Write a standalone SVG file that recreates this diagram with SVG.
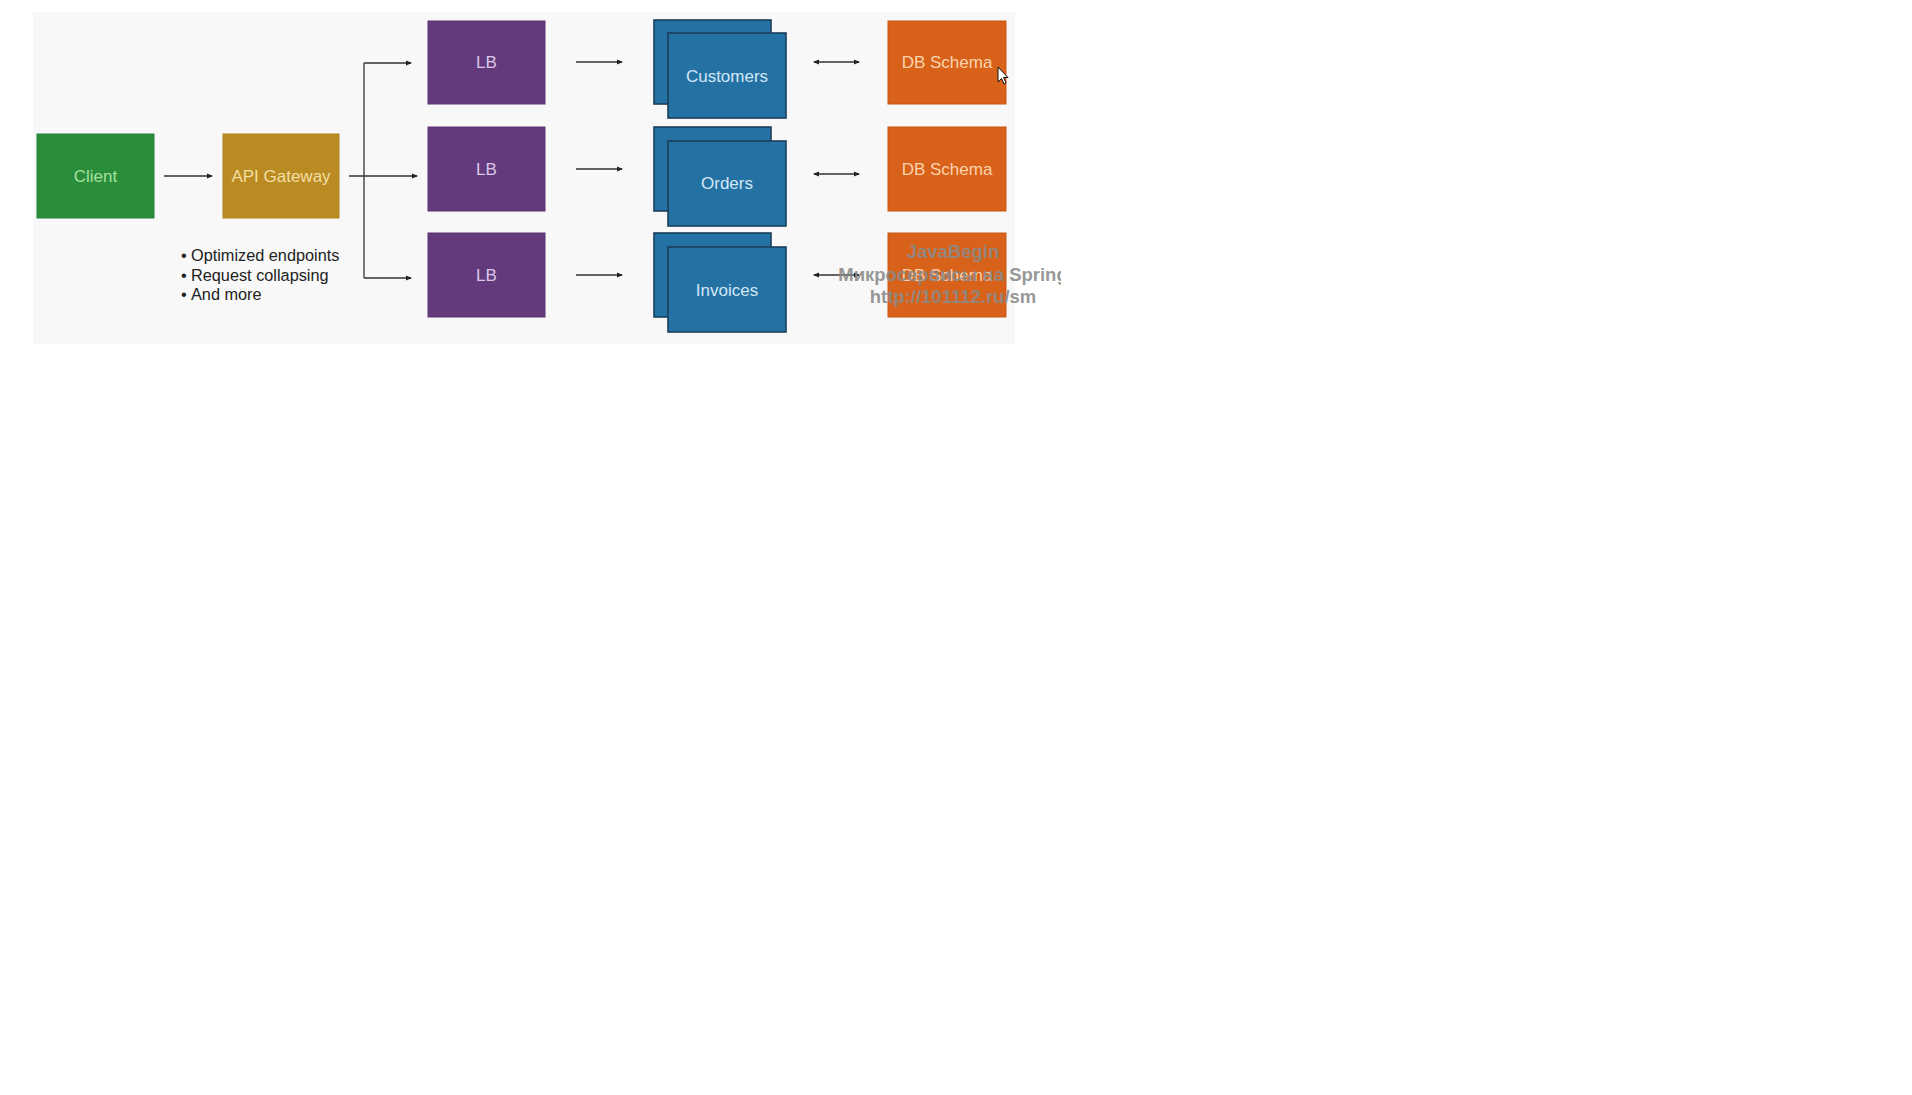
<svg xmlns="http://www.w3.org/2000/svg" width="1912" height="1095" viewBox="0 0 1912 1095">
  <style>
    .lbl { font-family: "Liberation Sans", Arial, sans-serif; font-size: 17px; text-anchor: middle; dominant-baseline: central; }
    .note { font-family: "Liberation Sans", Arial, sans-serif; font-size: 16.3px; fill: #222; }
    .wm { font-family: "Liberation Sans", Arial, sans-serif; font-size: 18.5px; font-weight: bold; fill: #8a8a8a; text-anchor: middle; fill-opacity: 0.9; }
    .conn { stroke: #333; stroke-width: 1.3; fill: none; }
    .lb { fill: #633b7d; stroke: #5a3570; stroke-width: 1; }
    .svc { fill: #2472a4; stroke: #1b3f5a; stroke-width: 1.6; }
    .db { fill: #d9621a; stroke: #c85716; stroke-width: 1; }
  </style>
  <defs>
    <marker id="arr" viewBox="0 0 6 6" refX="5" refY="3" markerWidth="6" markerHeight="6" markerUnits="userSpaceOnUse" orient="auto-start-reverse">
      <path d="M0,0.5 L6,3 L0,5.5 Z" fill="#222"/>
    </marker>
    <clipPath id="wmclip">
      <rect x="0" y="0" width="1061" height="1095"/>
    </clipPath>
  </defs>

  <rect width="1912" height="1095" fill="#ffffff"/>
  <!-- slide panel -->
  <rect x="33" y="12" width="982" height="332" fill="#f8f8f8"/>

  <g id="connectors">
    <line class="conn" x1="164" y1="176" x2="212" y2="176" marker-end="url(#arr)"/>
    <line class="conn" x1="349" y1="176" x2="417" y2="176" marker-end="url(#arr)"/>
    <line class="conn" x1="364" y1="63" x2="364" y2="278"/>
    <line class="conn" x1="364" y1="63" x2="411" y2="63" marker-end="url(#arr)"/>
    <line class="conn" x1="364" y1="278" x2="411" y2="278" marker-end="url(#arr)"/>
    <line class="conn" x1="576" y1="62" x2="622" y2="62" marker-end="url(#arr)"/>
    <line class="conn" x1="576" y1="169" x2="622" y2="169" marker-end="url(#arr)"/>
    <line class="conn" x1="576" y1="275" x2="622" y2="275" marker-end="url(#arr)"/>
    <line class="conn" x1="814" y1="62" x2="859" y2="62" marker-start="url(#arr)" marker-end="url(#arr)"/>
    <line class="conn" x1="814" y1="174" x2="859" y2="174" marker-start="url(#arr)" marker-end="url(#arr)"/>
    <line class="conn" x1="814" y1="275" x2="859" y2="275" marker-start="url(#arr)" marker-end="url(#arr)"/>
  </g>

  <g id="client">
    <rect x="37" y="134" width="117" height="84" fill="#2a8d3a" stroke="#27813a"/>
    <text class="lbl" x="95.5" y="176" fill="#a5e0a0">Client</text>
  </g>

  <g id="api-gateway">
    <rect x="223" y="134" width="116" height="84" fill="#b98b22" stroke="#ad8220"/>
    <text class="lbl" x="281" y="176" fill="#f3dfa2">API Gateway</text>
  </g>

  <g id="gateway-notes">
    <text class="note" x="181" y="261">•</text>
    <text class="note" x="191" y="261">Optimized endpoints</text>
    <text class="note" x="181" y="281">•</text>
    <text class="note" x="191" y="281">Request collapsing</text>
    <text class="note" x="181" y="300">•</text>
    <text class="note" x="191" y="300">And more</text>
  </g>

  <g id="lb-1">
    <rect class="lb" x="428" y="21" width="117" height="83"/>
    <text class="lbl" x="486.5" y="62.5" fill="#d9c9e8">LB</text>
  </g>
  <g id="lb-2">
    <rect class="lb" x="428" y="127" width="117" height="84"/>
    <text class="lbl" x="486.5" y="169" fill="#d9c9e8">LB</text>
  </g>
  <g id="lb-3">
    <rect class="lb" x="428" y="233" width="117" height="84"/>
    <text class="lbl" x="486.5" y="275" fill="#d9c9e8">LB</text>
  </g>

  <g id="customers">
    <rect class="svc" x="654" y="20" width="117" height="84"/>
    <rect class="svc" x="668" y="33" width="118" height="85"/>
    <text class="lbl" x="727" y="76" fill="#d2e7f5">Customers</text>
  </g>
  <g id="orders">
    <rect class="svc" x="654" y="127" width="117" height="84"/>
    <rect class="svc" x="668" y="141" width="118" height="85"/>
    <text class="lbl" x="727" y="183" fill="#d2e7f5">Orders</text>
  </g>
  <g id="invoices">
    <rect class="svc" x="654" y="233" width="117" height="84"/>
    <rect class="svc" x="668" y="247" width="118" height="85"/>
    <text class="lbl" x="727" y="290" fill="#d2e7f5">Invoices</text>
  </g>

  <g id="db-customers">
    <rect class="db" x="888" y="21" width="118" height="83"/>
    <text class="lbl" x="947" y="62.5" fill="#fbd2ae">DB Schema</text>
  </g>
  <g id="db-orders">
    <rect class="db" x="888" y="127" width="118" height="84"/>
    <text class="lbl" x="947" y="169" fill="#fbd2ae">DB Schema</text>
  </g>
  <g id="db-invoices">
    <rect class="db" x="888" y="233" width="118" height="84"/>
    <text class="lbl" x="947" y="275" fill="#fbd2ae">DB Schema</text>
  </g>

  <!-- pointer -->
  <path d="M998,67 L998,82 L1001.5,78.5 L1004,84 L1006,83 L1003.5,77.5 L1008,77.5 Z" fill="#ffffff" stroke="#111" stroke-width="1"/>

  <!-- overlay caption -->
  <g clip-path="url(#wmclip)">
    <text class="wm" x="953" y="258">JavaBegin</text>
    <text class="wm" x="953" y="281">Микросервисы на Spring</text>
    <text class="wm" x="953" y="303">http://101112.ru/sm</text>
  </g>
</svg>
